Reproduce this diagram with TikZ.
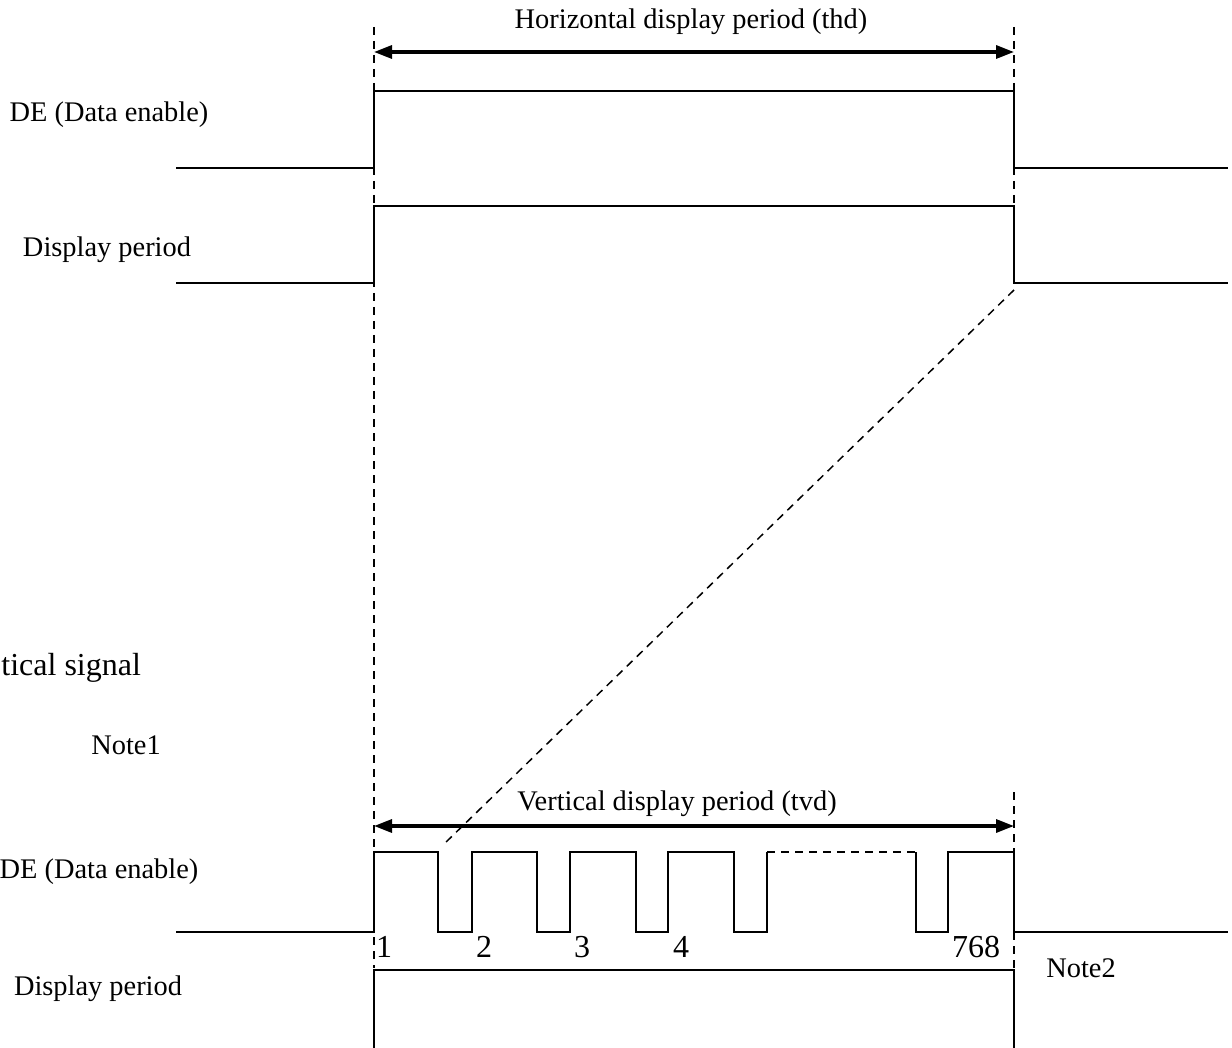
\documentclass[tikz,border=0pt]{standalone}
\usepackage{fontspec}
\setmainfont{Liberation Serif}
\usetikzlibrary{arrows.meta}
\begin{document}
\begin{tikzpicture}[x=0.5pt,y=-0.5pt,
  sig/.style={line width=0.9pt, line join=miter},
  guide/.style={line width=0.75pt, dash pattern=on 4pt off 3pt},
  span/.style={line width=1.6pt, {Triangle[length=9pt,width=6.5pt]}-{Triangle[length=9pt,width=6.5pt]}},
  lbl/.style={font=\fontsize{14.2}{17}\selectfont, inner sep=0pt, anchor=base},
  num/.style={font=\fontsize{16}{19}\selectfont, inner sep=0pt, anchor=base},
  big/.style={font=\fontsize{16}{19}\selectfont, inner sep=0pt, anchor=base west}]
\useasboundingbox (0,0) rectangle (1232,1048);

% guide coordinates
\coordinate (gLt) at (374,27);
\coordinate (gLb) at (374,968);
\coordinate (gRt) at (1014,27);
\coordinate (gRm) at (1014,205);
\coordinate (gRv) at (1014,792);
\coordinate (gRh) at (1014,852);
\coordinate (gRl) at (1014,932);
\coordinate (gRb) at (1014,968);
\coordinate (dA) at (1014,290);
\coordinate (dB) at (443,845);

% dashed guides
\draw[guide] (gLt) -- (gLb);
\draw[guide] (gRt) -- (gRm);
\draw[guide] (gRv) -- (gRh);
\draw[guide] (gRl) -- (gRb);
\draw[guide] (dA) -- (dB);

% horizontal display period
\coordinate (hL) at (374,52);
\coordinate (hR) at (1014,52);
\draw[span] (hL) -- (hR);
\node[lbl] (thd) at (691,29) {Horizontal display period (thd)};

% top DE
\node[lbl] (de1) at (109,122) {DE (Data enable)};
\draw[sig] (176,168) -- (374,168) -- (374,91) -- (1014,91) -- (1014,168) -- (1228,168);

% top display period
\node[lbl] (dp1) at (107,257) {Display period};
\draw[sig] (176,283) -- (374,283) -- (374,206) -- (1014,206) -- (1014,283) -- (1228,283);

% vertical signal
\node[big] (vs) at (1,675) {tical signal};
\node[lbl] (n1) at (126,754) {Note1};

% vertical display period
\coordinate (vL) at (374,826);
\coordinate (vR) at (1014,826);
\draw[span] (vL) -- (vR);
\node[lbl] (tvd) at (677,810) {Vertical display period (tvd)};

% bottom DE
\node[lbl] (de2) at (99,878) {DE (Data enable)};
\draw[sig] (176,932) -- (374,932) -- (374,852) -- (438,852) -- (438,932) -- (472,932)
  -- (472,852) -- (537,852) -- (537,932) -- (570,932)
  -- (570,852) -- (636,852) -- (636,932) -- (668,932)
  -- (668,852) -- (734,852) -- (734,932) -- (767,932) -- (767,852);
\draw[guide] (767,852) -- (916,852);
\draw[sig] (916,852) -- (916,932) -- (948,932) -- (948,852) -- (1014,852) -- (1014,932) -- (1228,932);

% line numbers
\node[num] (l1) at (384,957) {1};
\node[num] (l2) at (484,957) {2};
\node[num] (l3) at (582,957) {3};
\node[num] (l4) at (681,957) {4};
\node[num] (l768) at (976,957) {768};
\node[lbl] (n2) at (1081,977) {Note2};

% bottom display period
\node[lbl] (dp2) at (98,995) {Display period};
\draw[sig] (374,1048) -- (374,970) -- (1014,970) -- (1014,1048);
\end{tikzpicture}
\end{document}
